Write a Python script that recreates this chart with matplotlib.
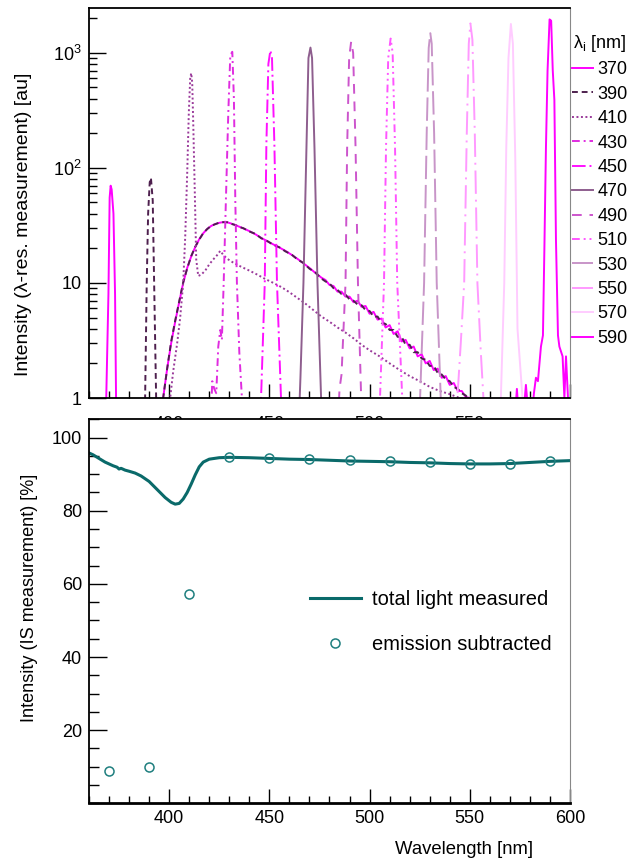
import matplotlib
matplotlib.use("Agg")
import matplotlib.pyplot as plt
from matplotlib.ticker import MultipleLocator, FixedLocator, NullFormatter

plt.rcParams['font.family'] = ['Liberation Sans', 'DejaVu Sans']
plt.rcParams['mathtext.fontset'] = 'custom'
plt.rcParams['mathtext.rm'] = 'Liberation Sans'
plt.rcParams['mathtext.it'] = 'Liberation Sans:italic'

# ---- top panel: wavelength resolved spectra (one per excitation wavelength)
wl_370 = [360, 368.2, 368.6, 369.7, 370.3, 370.8, 371.3, 372.2, 373.0, 373.5, 374.0, 396,
          397, 399, 401, 403, 405, 407, 409, 411, 413, 415, 417, 419, 421, 423, 425, 427, 429, 431,
          433, 435, 437, 440, 443, 446, 449, 452, 455, 458, 461, 464, 467, 470, 473,
          476, 478, 480, 482, 484, 486, 488, 490, 492, 494, 496, 498, 500, 502, 504, 506, 508,
          510, 512, 514, 516, 518, 520, 522, 524, 526, 528, 530, 532, 534, 536, 538, 540, 542,
          544, 546, 548, 550, 552, 600]
i_370 = [0.5, 0.5, 1.0, 8, 55, 70, 65, 40, 8, 1.0, 0.5, 0.5,
         1.0, 1.8, 3.0, 4.6, 6.8, 10, 13.5, 17, 20.5, 24, 27, 29.5, 31.3, 32.5, 33.3, 33.8, 33.6, 32.8,
         31.8, 30.8, 29.8, 28.2, 26.5, 24.6, 23.0, 21.6, 20.3, 19.0, 17.6, 16.2, 14.8, 13.5, 12.2,
         11.1, 10.6, 9.6, 9.4, 8.4, 8.4, 7.6, 7.6, 6.8, 7.0, 6.2, 6.3, 5.4, 5.6, 4.8, 4.9, 4.1,
         4.3, 3.6, 3.8, 3.1, 3.2, 2.7, 2.8, 2.3, 2.4, 2.0, 2.1, 1.75, 1.8, 1.5, 1.55, 1.3, 1.35,
         1.15, 1.15, 1.02, 1.0, 0.5, 0.5]

wl_390 = [360, 387.5, 388.0, 388.8, 389.5, 390.3, 390.9, 391.8, 392.5, 393.5, 394.0, 396,
          397, 399, 401, 403, 405, 407, 409, 411, 413, 415, 417, 419, 421, 423, 425, 427, 429, 431,
          433, 435, 437, 440, 443, 446, 449, 452, 455, 458, 461, 464, 467, 470, 473,
          476, 478, 480, 482, 484, 486, 488, 490, 492, 494, 496, 498, 500, 502, 504, 506, 508,
          510, 512, 514, 516, 518, 520, 522, 524, 526, 528, 530, 532, 534, 536, 538, 540, 542,
          544, 546, 548, 550, 552, 600]
i_390 = [0.5, 0.5, 1.0, 10, 40, 75, 82, 52, 10, 1.0, 0.5, 0.5,
         1.0, 1.8, 3.1, 4.7, 6.9, 10.1, 13.4, 17.1, 20.6, 23.8, 27.1, 29.4, 31.4, 32.4, 33.4, 33.7, 33.7, 32.6,
         31.9, 30.6, 29.9, 28.0, 26.7, 24.4, 23.1, 21.4, 20.4, 18.8, 17.7, 16.0, 14.9, 13.3, 12.3,
         10.9, 10.3, 9.9, 9.0, 8.7, 8.0, 7.9, 7.2, 7.0, 6.5, 6.4, 5.8, 5.7, 5.1, 5.1, 4.5, 4.4,
         3.9, 3.9, 3.4, 3.4, 2.9, 2.9, 2.5, 2.5, 2.2, 2.15, 1.9, 1.9, 1.65, 1.6, 1.45, 1.4, 1.25,
         1.2, 1.1, 1.05, 0.95, 0.5, 0.5]

wl_410 = [360, 400.0, 400.5, 402, 404, 405.5, 407, 408, 409, 409.8, 410.5, 411, 411.5, 412, 412.8,
          413.5, 414.5, 416, 418, 420, 422, 424, 425.5, 427, 429, 432, 436, 440, 444, 448, 452,
          456, 460, 464, 468, 472, 476, 480, 484, 488, 492, 496, 500, 505, 510, 515, 520, 525,
          530, 535, 540, 545, 550, 600]
i_410 = [0.5, 0.5, 1.0, 1.7, 3.0, 5.0, 10, 25, 90, 300, 600, 665, 550, 250, 60,
         16, 11.5, 11.8, 12.8, 14.5, 16, 17.5, 19, 17.5, 16.2, 15, 13.8, 12.8, 11.8, 10.8, 10,
         9.2, 8.3, 7.4, 6.6, 5.8, 5.1, 4.6, 4.1, 3.7, 3.3, 2.9, 2.6, 2.3, 2.0, 1.75, 1.55, 1.4,
         1.25, 1.15, 1.08, 1.0, 0.9, 0.5]

wl_430 = [360, 421.0, 421.5, 422.5, 423.5, 424.5, 425.5, 426.3, 427.2, 428.3, 429.5, 430.5, 431.5,
          432.3, 433.0, 433.8, 435.0, 436.3, 437.0, 600]
i_430 = [0.5, 0.8, 1.4, 1.2, 1.1, 2.8, 3.9, 3.2, 10, 52, 300, 950, 1020,
         400, 52, 10, 2.5, 1.0, 0.5, 0.5]

wl_450 = [360, 445.0, 446.0, 447.7, 448.5, 449.5, 450.5, 451.3, 452.5, 453.8, 455.8, 456.5, 600]
i_450 = [0.5, 0.5, 1.2, 10, 160, 800, 1050, 900, 160, 10, 1.0, 0.5, 0.5]

wl_470 = [360, 464.5, 465.5, 467.0, 468.5, 469.5, 470.5, 471.3, 472.5, 474.0, 475.8, 476.5, 600]
i_470 = [0.5, 0.5, 1.5, 10, 150, 900, 1110, 900, 150, 10, 1.0, 0.5, 0.5]

wl_490 = [360, 484.0, 485.0, 486.0, 488.0, 488.8, 489.8, 490.8, 491.8, 493.0, 494.2, 495.8, 496.5, 600]
i_490 = [0.5, 0.5, 1.2, 1.6, 10, 150, 900, 1250, 1000, 150, 10, 1.0, 0.5, 0.5]

wl_510 = [360, 504.5, 505.2, 507.2, 508.2, 509.3, 510.5, 511.5, 512.7, 513.8, 516.3, 517.0, 600]
i_510 = [0.5, 0.5, 1.0, 10, 150, 900, 1330, 1000, 150, 10, 1.0, 0.5, 0.5]

wl_530 = [360, 524.5, 525.2, 527.2, 528.5, 529.5, 530.3, 531.0, 532.2, 533.5, 535.5, 536.5, 600]
i_530 = [0.5, 0.5, 1.0, 10, 200, 1100, 1480, 1200, 200, 10, 1.0, 0.5, 0.5]

wl_550 = [360, 543.0, 543.8, 545.5, 547.2, 548.5, 549.5, 550.3, 551.3, 552.5, 553.8, 555.5, 556.8, 557.5, 600]
i_550 = [0.5, 0.5, 1.0, 3.0, 10, 200, 1200, 1800, 1300, 200, 10, 2.5, 1.0, 0.5, 0.5]

wl_570 = [360, 565.0, 565.5, 567.2, 568.2, 569.3, 570.5, 571.5, 572.7, 573.8, 576.3, 577.0, 600]
i_570 = [0.5, 0.5, 1.0, 10, 150, 900, 1780, 1200, 120, 4.0, 1.0, 0.5, 0.5]

wl_590 = [360, 572.0, 573.5, 574.2, 575.0, 577.0, 578.0, 579.0, 581.0, 582.0, 583.0, 584.0, 585.5,
          586.5, 587.2, 588.0, 588.8, 589.8, 590.6, 591.4, 592.2, 593.0, 594.0, 594.7, 596.3,
          597.2, 598.0, 599.0, 599.5, 600]
i_590 = [0.5, 0.5, 1.2, 0.8, 0.6, 0.8, 1.3, 0.8, 0.7, 1.1, 1.5, 1.4, 2.8,
         3.5, 19, 150, 700, 1950, 1900, 700, 390, 23.5, 3.5, 2.8, 2.3,
         1.0, 2.3, 1.0, 0.5, 0.5]

labels = ['370', '390', '410', '430', '450', '470', '490', '510', '530', '550', '570', '590']
colors = ['#ff00ff', '#4e204e', '#9a3a9a', '#e02ce0', '#ff10ff', '#8e5e8e',
          '#cc55cc', '#ff55ff', '#c895c8', '#ff99ff', '#ffccff', '#ff00ff']
styles = ['-', (0, (3, 2)), (0, (1, 1.3)), (0, (4, 2, 1, 2)), (0, (7, 2, 1, 2)), '-',
          (0, (5, 4)), (0, (4, 2, 1, 2, 1, 2)), (0, (12, 3)), (0, (12, 3, 1, 3)), '-', '-']
spectra = [(wl_370, i_370), (wl_390, i_390), (wl_410, i_410), (wl_430, i_430),
           (wl_450, i_450), (wl_470, i_470), (wl_490, i_490), (wl_510, i_510),
           (wl_530, i_530), (wl_550, i_550), (wl_570, i_570), (wl_590, i_590)]

# ---- bottom panel: integrating sphere measurement
total_wl = [360, 362, 365, 368, 370, 372, 374, 375, 376, 378, 380, 383, 386, 390, 394, 398, 401,
            403, 405, 407, 409, 411, 413, 415, 417, 420, 425, 430, 440, 450, 460, 470, 480, 490,
            500, 510, 520, 530, 540, 550, 560, 570, 580, 590, 600]
total_val = [95.8, 95.3, 94.3, 93.3, 92.8, 92.3, 91.9, 91.4, 91.6, 91.1, 90.8, 90.3, 89.5, 88.0,
             85.8, 83.6, 82.3, 81.8, 82.0, 83.2, 85.0, 87.3, 89.8, 92.0, 93.3, 94.1, 94.5, 94.6,
             94.5, 94.3, 94.1, 94.0, 93.8, 93.6, 93.5, 93.4, 93.2, 93.1, 92.9, 92.8, 92.8, 92.9,
             93.2, 93.5, 93.7]
sub_wl = [370, 390, 410, 430, 450, 470, 490, 510, 530, 550, 570, 590]
sub_val = [8.9, 9.8, 57.1, 94.6, 94.4, 94.1, 93.8, 93.5, 93.2, 92.9, 92.9, 93.5]

fig = plt.figure(figsize=(6.44, 8.68), dpi=100)
ax1 = fig.add_axes([89/644, 1-398/868, 481/644, 390/868])
ax2 = fig.add_axes([89/644, 1-803.3/868, 481/644, 384/868])

for (x, y), c, ls, lab in zip(spectra, colors, styles, labels):
    ax1.plot(x, y, color=c, linestyle=ls, linewidth=1.4, label=lab)

ax1.set_yscale('log')
ax1.set_xlim(360, 600)
ax1.set_ylim(1, 2450)
ax1.yaxis.set_major_locator(FixedLocator([1, 10, 100, 1000]))
ax1.set_yticklabels(['1', '10', r'10$^{2}$', r'10$^{3}$'])
ax1.yaxis.set_minor_formatter(NullFormatter())
ax1.set_xticks([400, 450, 500, 550, 600], labels=['400', '450', '500', '550', ''])
ax1.xaxis.set_minor_locator(MultipleLocator(10))
ax1.tick_params(axis='both', which='both', direction='in', labelsize=13)
ax1.tick_params(axis='y', which='major', length=12, width=1, pad=5)
ax1.tick_params(axis='y', which='minor', length=6, width=1)
ax1.tick_params(axis='x', which='major', length=10, width=1, pad=13.3)
ax1.tick_params(axis='x', which='minor', length=5, width=1)
ax1.set_ylabel('Intensity (λ-res. measurement) [au]', fontsize=14)
ax1.yaxis.set_label_coords(-0.1185, 0.446)
ax1.spines['right'].set_color('#888888')
for s in ['left', 'bottom', 'top']:
    ax1.spines[s].set_linewidth(1.3)

fig.legend(handles=ax1.get_lines(), loc='upper left', bbox_to_anchor=(572/644, 1-33/868),
           frameon=False, fontsize=13, title=r'λ$_{\rm i}$ [nm]', title_fontsize=13,
           handlelength=1.15, handletextpad=0.25, labelspacing=0.41, borderpad=0,
           borderaxespad=0)

ax2.set_facecolor('white')
ax2.set_zorder(3)
ax2.plot(total_wl, total_val, color='#0a6a6a', linewidth=2.2, label='total light measured')
ax2.plot(sub_wl, sub_val, linestyle='none', marker='o', markersize=6.5, markerfacecolor='none',
         markeredgecolor='#1f7f7f', markeredgewidth=1.1, label='emission subtracted')
ax2.set_xlim(360, 600)
ax2.set_ylim(0, 105)
ax2.xaxis.set_major_locator(MultipleLocator(50))
ax2.xaxis.set_minor_locator(MultipleLocator(10))
ax2.yaxis.set_major_locator(FixedLocator([20, 40, 60, 80, 100]))
ax2.yaxis.set_minor_locator(MultipleLocator(5))
ax2.tick_params(axis='both', which='both', direction='in', labelsize=13)
ax2.tick_params(axis='y', which='major', length=13, width=1, pad=5)
ax2.tick_params(axis='y', which='minor', length=7, width=1)
ax2.tick_params(axis='x', which='major', length=10, width=1, pad=5)
ax2.tick_params(axis='x', which='minor', length=5, width=1)
ax2.set_xlabel('Wavelength [nm]', fontsize=13.3, labelpad=10, x=0.78)
ax2.set_ylabel('Intensity (IS measurement) [%]', fontsize=13.1)
ax2.yaxis.set_label_coords(-0.106, 0.535)
ax2.spines['right'].set_color('#888888')
for s in ['left', 'bottom', 'top']:
    ax2.spines[s].set_linewidth(1.3)
ax2.spines['bottom'].set_linewidth(2)
ax2.legend(loc='upper left', bbox_to_anchor=(0.46, 0.556), frameon=False, fontsize=14.5,
           handlelength=2.5, handletextpad=0.55, labelspacing=1.3, borderpad=0, borderaxespad=0)

plt.savefig('out.png', dpi=100)
